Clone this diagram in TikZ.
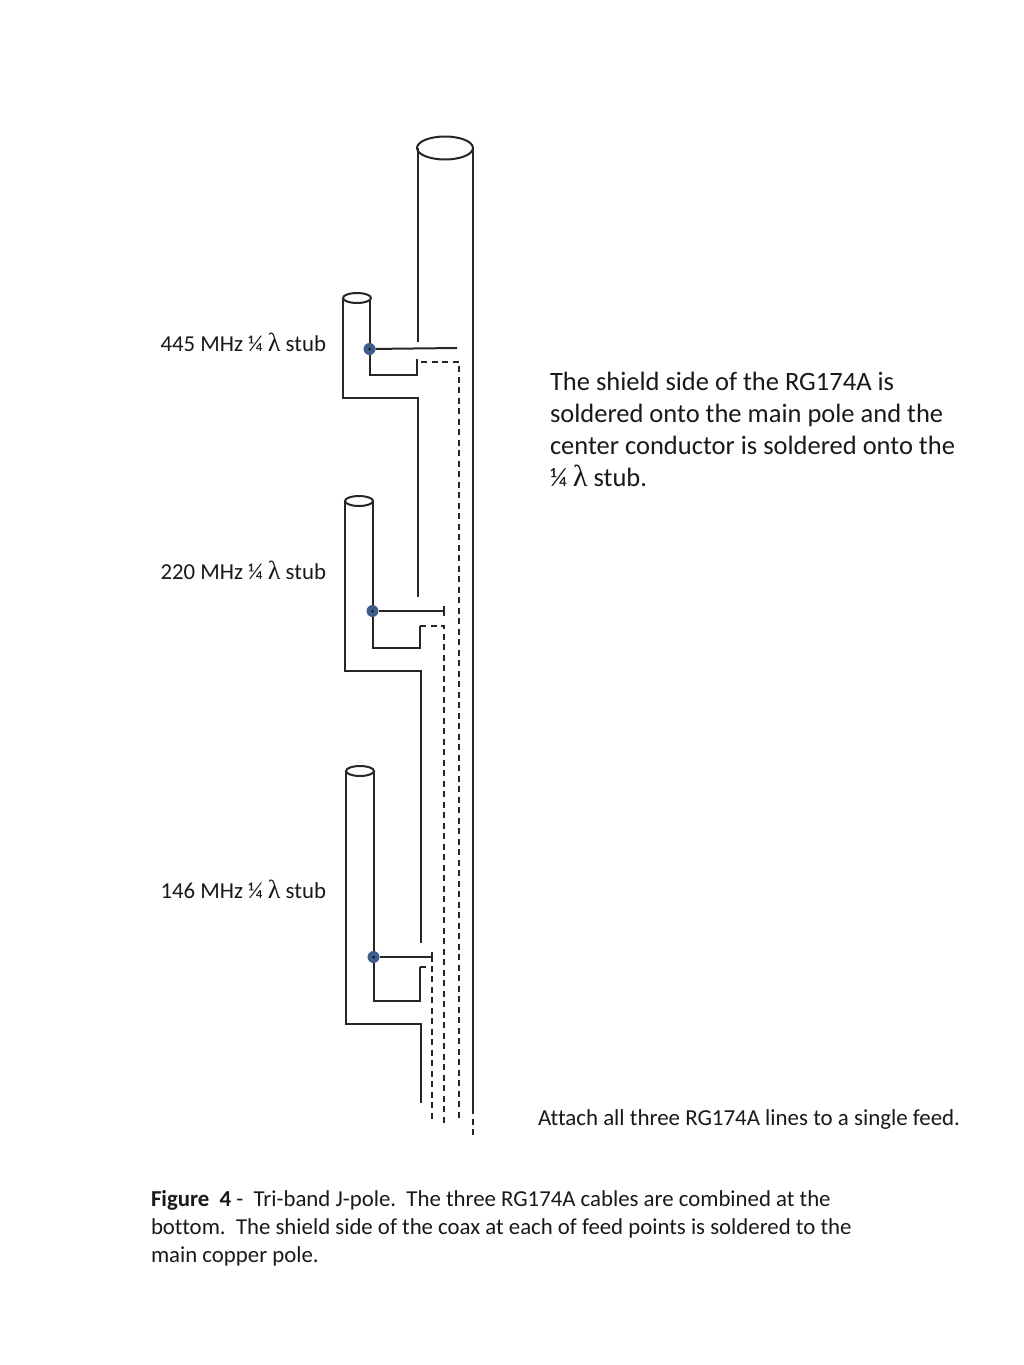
\documentclass[tikz,border=0pt]{standalone}
\usepackage{fontspec}
\setmainfont[Ligatures=NoCommon]{Carlito}
\newfontfamily\lamfont[Scale=1.15]{Liberation Serif}
\usetikzlibrary{positioning, shapes.geometric}
\definecolor{dotblue}{RGB}{62,92,140}
\newcommand{\lam}{{\lamfont λ}}

\begin{document}
\begin{tikzpicture}[x=1pt,y=-1pt,line width=2pt,draw=black!85]
    \tikzstyle{dash line}=[dashed, dash pattern=on 6pt off 4.5pt]
    \tikzstyle{top ring}=[draw, ellipse, fill=white, inner sep=0pt, minimum height=10pt, minimum width=28pt]
    \tikzstyle{feed}=[circle, fill=dotblue, minimum size=12pt, inner sep=0pt, outer sep=0pt]
    \tikzstyle{center dot}=[circle, fill=black, minimum size=2.5pt, inner sep=0pt]
    \tikzstyle{stub label}=[anchor=base east, font=\fontsize{22.8}{28}\selectfont, text=black!90, inner sep=0pt]
    \tikzstyle{note}=[anchor=north west, align=left, text=black!90, inner sep=0pt]

    \useasboundingbox (0,0) rectangle (1024,1365);
    \fill[white] (0,0) rectangle (1024,1365);

    % main pole
    \node[top ring, minimum width=56pt, minimum height=23pt] (P-top) at (445,148) {};
    \coordinate (P-a) at (418,148);
    \coordinate (P-b) at (418,342);
    \coordinate (P-c) at (473,148);
    \coordinate (P-d) at (473,1108);
    \coordinate (P-e) at (473,1138);
    \draw (P-a) -- (P-b);
    \draw (P-c) -- (P-d);
    \draw[dash line] (P-d) -- (P-e);

    % stub, feed point, and the pole section under it
    % name / left / right / top / feed y / foot y / base y / pole x / gap y / pole end y
    \foreach \n/\l/\r/\t/\f/\h/\b/\p/\g/\e in {
        A/343/370/298/349/375/398/418/359/597,
        B/345/373/501/611/648/671/421/626/943,
        C/346/374/771/957/1001/1024/421/967/1103}{
        \coordinate (\n-tl) at (\l,\t);
        \coordinate (\n-bl) at (\l,\b);
        \coordinate (\n-tr) at (\r,\t);
        \coordinate (\n-fr) at (\r,\h);
        \coordinate (\n-up) at (\p-1,\g);
        \coordinate (\n-ft) at (\p-1,\h);
        \coordinate (\n-bm) at (\p,\b);
        \coordinate (\n-en) at (\p,\e);
        \draw (\n-tl) -- (\n-bl) -- (\n-bm) -- (\n-en);
        \draw (\n-tr) -- (\n-fr) -- (\n-ft) -- (\n-up);
        \node[top ring] (\n-top) at (\l+14,\t) {};
        \node[feed] (\n-feed) at (\r-0.5,\f) {};
    }

    % coax runs
    \coordinate (A-end) at (457,348);
    \coordinate (B-end) at (444,611);
    \coordinate (C-end) at (432,957);
    \coordinate (A-sh) at (421,362);
    \coordinate (A-dn) at (459,362);
    \coordinate (A-lo) at (459,1122);
    \coordinate (B-dn) at (444,626);
    \coordinate (B-lo) at (444,1125);
    \coordinate (C-dn) at (432,967);
    \coordinate (C-lo) at (432,1123);
    \draw (A-feed) -- (A-end);
    \draw (B-feed) -- (B-end);
    \draw (C-feed) -- (C-end);
    \draw[line width=1.3pt] (444,606) -- (444,616);
    \draw[line width=1.3pt] (432,952) -- (432,962);
    \draw[dash line] (A-sh) -- (A-dn) -- (A-lo);
    \draw[dash line] (B-up) -- (B-dn) -- (B-lo);
    \draw[dash line] (C-up) -- (C-dn) -- (C-lo);
    \foreach \n in {A,B,C}{
        \node[center dot] (\n-core) at (\n-feed) {};
    }

    % labels
    \node[stub label] (A-text) at (327,351) {445 MHz ¼ \lam{} stub};
    \node[stub label] (B-text) at (327,579) {220 MHz ¼ \lam{} stub};
    \node[stub label] (C-text) at (327,898) {146 MHz ¼ \lam{} stub};

    \node[note, font=\fontsize{26.5}{32}\selectfont] (shield) at (549,371) {The shield side of the RG174A is\\soldered onto the main pole and the\\center conductor is soldered onto the\\¼ \lam{} stub.};
    \node[note, font=\fontsize{22.9}{28}\selectfont] (attach) at (537,1109) {Attach all three RG174A lines to a single feed.};
    \node[note, font=\fontsize{22.8}{28}\selectfont] (caption) at (150,1189) {\textbf{Figure\ \ 4} -\ \ Tri-band J-pole.\ \ The three RG174A cables are combined at the\\bottom.\ \ The shield side of the coax at each of feed points is soldered to the\\main copper pole.};
\end{tikzpicture}
\end{document}
